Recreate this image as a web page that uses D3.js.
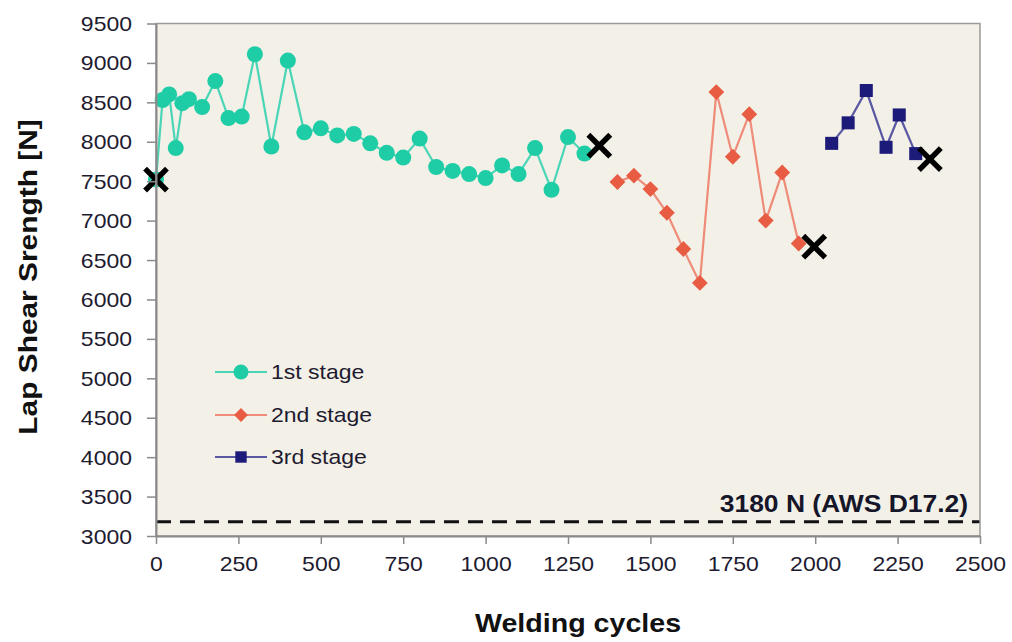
<!DOCTYPE html>
<html>
<head>
<meta charset="utf-8">
<script src="https://cdn.jsdelivr.net/npm/d3@7"></script>
<style>
  html, body { margin: 0; padding: 0; background: #ffffff; }
  svg { display: block; font-family: "Liberation Sans", Arial, sans-serif; }
</style>
</head>
<body>
<svg id="chart" width="1012" height="642"></svg>
<script>
// Welding cycles vs. lap shear strength, three electrode stages
const stage1Cycles = [0, 20, 40, 60, 80, 100, 140, 180, 220, 260, 300, 350, 400, 450, 500, 550, 600,
  650, 700, 750, 800, 850, 900, 950, 1000, 1050, 1100, 1150, 1200, 1250, 1300];
const stage1Strength = [7520, 8530, 8600, 7920, 8490, 8540, 8440, 8770, 8300, 8320, 9110, 7940, 9030,
  8120, 8170, 8080, 8100, 7980, 7860, 7800, 8040, 7680, 7630, 7590, 7540, 7700, 7590, 7920, 7390, 8060, 7850];

const stage2Cycles = [1400, 1450, 1500, 1550, 1600, 1650, 1700, 1750, 1800, 1850, 1900, 1950];
const stage2Strength = [7490, 7570, 7400, 7100, 6640, 6210, 8630, 7810, 8350, 7000, 7610, 6710];

const stage3Cycles = [2050, 2100, 2155, 2215, 2255, 2305];
const stage3Strength = [7980, 8240, 8650, 7930, 8340, 7850];

// Stage boundaries (electrode dressing points)
const crossCycles = [0, 1345, 1997, 2348];
const crossStrength = [7520, 7950, 6670, 7780];

const awsLimit = 3180;
const awsLabel = "3180 N (AWS D17.2)";

const xTicks = [0, 250, 500, 750, 1000, 1250, 1500, 1750, 2000, 2250, 2500];
const yTicks = [3000, 3500, 4000, 4500, 5000, 5500, 6000, 6500, 7000, 7500, 8000, 8500, 9000, 9500];

const stageNames = ["1st stage", "2nd stage", "3rd stage"];
const markerColors = ["#1ecca6", "#e75c43", "#1c1b7a"];
const lineColors = ["#4ad5b6", "#ef8b79", "#5a58a2"];

const svg = d3.select("#chart");
const plotLeft = 156, plotRight = 980, plotTop = 23.5, plotBottom = 536;

const x = d3.scaleLinear().domain([0, 2500]).range([plotLeft, plotRight]);
const y = d3.scaleLinear().domain([3000, 9500]).range([plotBottom, plotTop]);

const SX = 1.15; // horizontal stretch of all text

function stretch(sel) {
  sel.each(function () {
    const t = d3.select(this);
    const tx = +t.attr("x") || 0, ty = +t.attr("y") || 0;
    t.attr("x", 0).attr("y", 0).attr("transform", `translate(${tx},${ty}) scale(${SX},1)`);
  });
}

// plot area
svg.append("rect")
  .attr("x", plotLeft).attr("y", plotTop)
  .attr("width", plotRight - plotLeft).attr("height", plotBottom - plotTop)
  .attr("fill", "#f3f0e7");

// AWS minimum line
svg.append("line")
  .attr("x1", plotLeft).attr("x2", plotRight)
  .attr("y1", y(awsLimit)).attr("y2", y(awsLimit))
  .attr("stroke", "#111").attr("stroke-width", 3)
  .attr("stroke-dasharray", "15,9");

svg.append("text")
  .attr("x", 968).attr("y", 512)
  .attr("text-anchor", "end")
  .attr("font-size", 23).attr("font-weight", "bold").attr("fill", "#16162a")
  .text(awsLabel)
  .call(stretch);

// series
const series = [
  { xs: stage1Cycles, ys: stage1Strength },
  { xs: stage2Cycles, ys: stage2Strength },
  { xs: stage3Cycles, ys: stage3Strength }
];
const line = d3.line().x(d => x(d[0])).y(d => y(d[1]));

const circleSym = d3.symbol().type(d3.symbolCircle).size(Math.PI * 8 * 8);
const diamondSym = d3.symbol().type(d3.symbolSquare).size(125);
const squareSym = d3.symbol().type(d3.symbolSquare).size(170);
const symbols = [circleSym, diamondSym, squareSym];
const rotations = [0, 45, 0];

series.forEach((s, i) => {
  const pts = s.xs.map((v, k) => [v, s.ys[k]]);
  svg.append("path")
    .attr("d", line(pts))
    .attr("fill", "none")
    .attr("stroke", lineColors[i]).attr("stroke-width", 2.2);
  svg.append("g").selectAll("path")
    .data(pts).join("path")
    .attr("d", symbols[i]())
    .attr("transform", d => `translate(${x(d[0])},${y(d[1])}) rotate(${rotations[i]})`)
    .attr("fill", markerColors[i]);
});

// stage boundary crosses
const cr = 9;
svg.append("g").selectAll("path")
  .data(crossCycles.map((v, k) => [v, crossStrength[k]]))
  .join("path")
  .attr("d", `M${-cr},${-cr}L${cr},${cr}M${-cr},${cr}L${cr},${-cr}`)
  .attr("transform", d => `translate(${x(d[0])},${y(d[1])})`)
  .attr("stroke", "#000").attr("stroke-width", 5.5).attr("stroke-linecap", "square")
  .attr("fill", "none");

// frame
svg.append("rect")
  .attr("x", plotLeft).attr("y", plotTop)
  .attr("width", plotRight - plotLeft).attr("height", plotBottom - plotTop)
  .attr("fill", "none").attr("stroke", "#9a9a9a").attr("stroke-width", 1.5);

// axes
const axisColor = "#8a8a8a";
const gx = svg.append("g")
  .attr("transform", `translate(0,${plotBottom})`)
  .call(d3.axisBottom(x).tickValues(xTicks).tickSize(8).tickSizeOuter(0).tickPadding(8).tickFormat(d3.format("d")));
const gy = svg.append("g")
  .attr("transform", `translate(${plotLeft},0)`)
  .call(d3.axisLeft(y).tickValues(yTicks).tickSize(9).tickSizeOuter(0).tickPadding(15).tickFormat(d3.format("d")));

[gx, gy].forEach(g => {
  g.select(".domain").attr("stroke", axisColor).attr("stroke-width", 2);
  g.selectAll(".tick line").attr("stroke", axisColor).attr("stroke-width", 1.5);
  g.selectAll(".tick text")
    .attr("font-size", 20).attr("fill", "#1e1b30")
    .attr("font-family", "Liberation Sans, Arial, sans-serif");
});
gx.selectAll(".tick text").attr("dy", null).attr("y", 35);
gy.selectAll(".tick text").attr("dy", null).attr("y", 7);
gx.selectAll(".tick text").call(stretch);
gy.selectAll(".tick text").call(stretch);

// axis titles
svg.append("text")
  .attr("x", 578).attr("y", 632)
  .attr("text-anchor", "middle")
  .attr("font-size", 26).attr("font-weight", "bold").attr("fill", "#111")
  .attr("transform", `translate(578,632) scale(1.1,1) translate(-578,-632)`)
  .text("Welding cycles");

svg.append("text")
  .attr("text-anchor", "middle")
  .attr("font-size", 26).attr("font-weight", "bold").attr("fill", "#111")
  .attr("transform", `translate(37,277) rotate(-90) scale(1.15,1)`)
  .text("Lap Shear Srength [N]");

// legend
const legend = svg.append("g");
const legendRows = [372, 415, 457];
stageNames.forEach((name, i) => {
  const ly = legendRows[i];
  legend.append("line")
    .attr("x1", 215).attr("x2", 267).attr("y1", ly).attr("y2", ly)
    .attr("stroke", lineColors[i]).attr("stroke-width", 2.2);
  const sym = i === 0 ? d3.symbol().type(d3.symbolCircle).size(Math.PI * 7.5 * 7.5)
    : i === 1 ? d3.symbol().type(d3.symbolSquare).size(95)
    : d3.symbol().type(d3.symbolSquare).size(130);
  legend.append("path")
    .attr("d", sym())
    .attr("transform", `translate(241,${ly}) rotate(${rotations[i]})`)
    .attr("fill", markerColors[i]);
  legend.append("text")
    .attr("x", 271).attr("y", ly + 7)
    .attr("font-size", 20).attr("fill", "#1e1b30")
    .text(name)
    .call(stretch);
});
</script>
</body>
</html>
